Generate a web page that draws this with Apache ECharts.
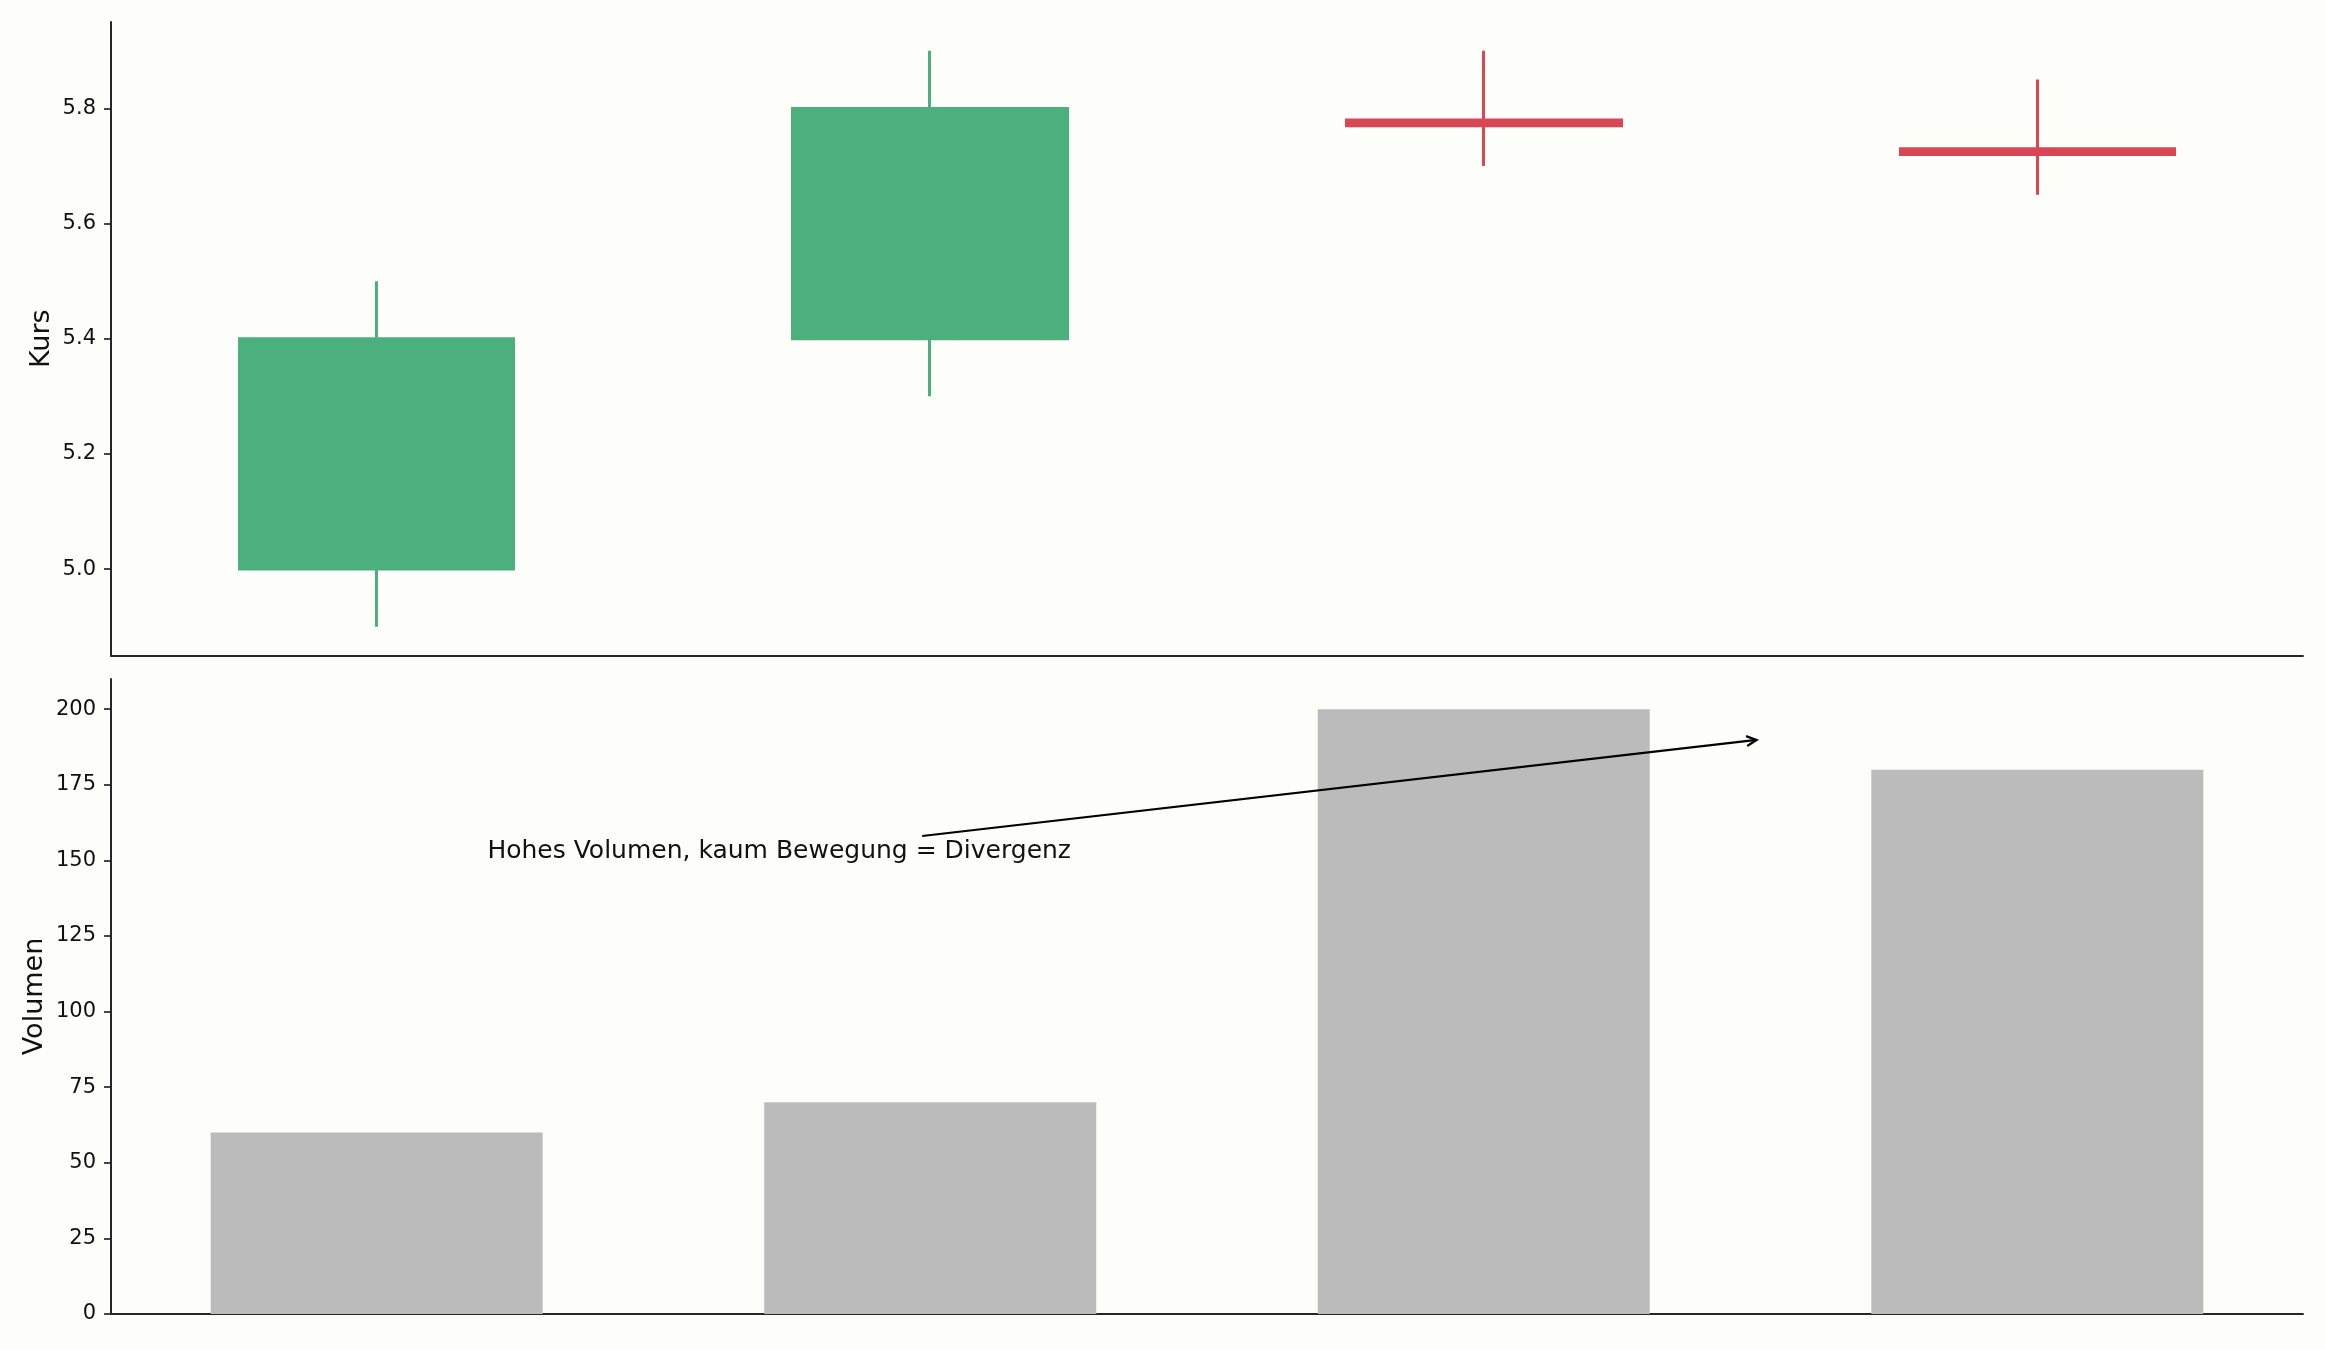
<!DOCTYPE html>
<html>
<head>
<meta charset="utf-8">
<script src="https://cdn.jsdelivr.net/npm/echarts@6/dist/echarts.min.js"></script>
<style>
  html, body { margin: 0; padding: 0; background: #fdfdf9; }
  #main { width: 2325px; height: 1350px; }
</style>
</head>
<body>
<div id="main"></div>
<script>
// chart data
var xPos = [0, 1, 2, 3];
var openVals = [5.0, 5.4, 5.78, 5.73];
var closeVals = [5.4, 5.8, 5.77, 5.72];
var lowVals = [4.9, 5.3, 5.7, 5.65];
var highVals = [5.5, 5.9, 5.9, 5.85];
var volumes = [60, 70, 200, 180];
var kursTicks = [5.0, 5.2, 5.4, 5.6, 5.8];
var volTicks = [0, 25, 50, 75, 100, 125, 150, 175, 200];
var noteText = 'Hohes Volumen, kaum Bewegung = Divergenz';
var noteAt = [0.2, 150];
var notePoint = [2.5, 190];

var FONT = 'DejaVu Sans';
var SPINE = '#262626';
var NOTE_SIZE = 25;
var myChart;

function candleData() {
    var out = [];
    for (var i = 0; i < xPos.length; i++) {
        out.push([xPos[i], openVals[i], closeVals[i], lowVals[i], highVals[i]]);
    }
    return out;
}

function volumeData() {
    var out = [];
    for (var i = 0; i < xPos.length; i++) {
        out.push([xPos[i], volumes[i]]);
    }
    return out;
}

function make_xaxis(idx) {
    return {
        type: 'value', gridIndex: idx, min: -0.48, max: 3.48,
        axisLine: { show: true, onZero: false, lineStyle: { color: SPINE, width: 2 } },
        axisTick: { show: false },
        axisLabel: { show: false },
        splitLine: { show: false }
    };
}

function make_yaxis(idx, min, max, ticks, name, gap, fmt) {
    return {
        type: 'value', gridIndex: idx, min: min, max: max, position: 'left',
        name: name, nameLocation: 'middle', nameRotate: 90, nameGap: gap,
        nameMoveOverlap: false,
        nameTextStyle: { fontFamily: FONT, fontSize: 27, color: '#111' },
        axisLine: { show: true, onZero: false, lineStyle: { color: SPINE, width: 2 } },
        axisTick: { show: true, inside: false, length: 7, customValues: ticks,
                    lineStyle: { color: SPINE, width: 1.7 } },
        axisLabel: { show: true, customValues: ticks, margin: 15, formatter: fmt,
                     fontFamily: FONT, fontSize: 21, color: '#111' },
        splitLine: { show: false }
    };
}

var option = {
    backgroundColor: '#fdfdf9',
    animation: false,
    grid: [
        { left: 111, right: 22, top: 22, bottom: 694.5, containLabel: false, outerBoundsMode: 'none' },
        { left: 111, right: 22, top: 679, bottom: 36, containLabel: false, outerBoundsMode: 'none' }
    ],
    xAxis: [make_xaxis(0), make_xaxis(1)],
    yAxis: [
        make_yaxis(0, 4.85, 5.95, kursTicks, 'Kurs', 56, function (v) { return v.toFixed(1); }),
        make_yaxis(1, 0, 210, volTicks, 'Volumen', 63, function (v) { return String(v); })
    ],
    series: [
        {
            type: 'candlestick',
            xAxisIndex: 0, yAxisIndex: 0,
            barWidth: 275,
            encode: { x: 0, y: [1, 2, 3, 4] },
            itemStyle: {
                color: '#4caf7e', color0: '#d94654',
                borderColor: '#4caf7e', borderColor0: '#d94654',
                borderWidth: 3
            },
            data: candleData()
        },
        {
            type: 'bar',
            xAxisIndex: 1, yAxisIndex: 1,
            barWidth: 332,
            itemStyle: { color: '#bbbbbb' },
            data: volumeData()
        }
    ]
};

function add_annotation() {
    var p0 = myChart.convertToPixel({ xAxisIndex: 1, yAxisIndex: 1 }, noteAt);
    var tip = myChart.convertToPixel({ xAxisIndex: 1, yAxisIndex: 1 }, notePoint);

    var ctx = document.createElement('canvas').getContext('2d');
    ctx.font = NOTE_SIZE + 'px "' + FONT + '"';
    var w = ctx.measureText(noteText).width;

    // text box like matplotlib: baseline at p0, box from ~24 above to ~8 below
    var cx = p0[0] + w / 2, cy = p0[1] - 8;
    var halfW = w / 2, halfH = 16;
    var dx = tip[0] - cx, dy = tip[1] - cy;
    var len = Math.sqrt(dx * dx + dy * dy);
    var ux = dx / len, uy = dy / len;
    var t = Math.min(halfW / Math.abs(ux || 1e-9), halfH / Math.abs(uy || 1e-9)) + 4;
    var sx = cx + ux * t, sy = cy + uy * t;
    var ex = tip[0] - ux * 4, ey = tip[1] - uy * 4;

    var hl = 10, hw = 5;
    var bx = ex - ux * hl, by = ey - uy * hl;
    var head = [[bx - uy * hw, by + ux * hw], [ex, ey], [bx + uy * hw, by - ux * hw]];

    myChart.setOption({
        graphic: [
            {
                type: 'text', silent: true, z: 100, x: p0[0], y: p0[1] - 8.6,
                style: { text: noteText, fontFamily: FONT, fontSize: NOTE_SIZE, fill: '#111',
                         align: 'left', verticalAlign: 'middle' }
            },
            {
                type: 'line', silent: true, z: 100,
                shape: { x1: sx, y1: sy, x2: ex, y2: ey },
                style: { stroke: '#000', lineWidth: 2.2 }
            },
            {
                type: 'polyline', silent: true, z: 100,
                shape: { points: head },
                style: { stroke: '#000', lineWidth: 2.2, fill: null }
            }
        ]
    });
}

myChart = echarts.init(document.getElementById('main'), null, { renderer: 'canvas' });
myChart.setOption(option);
add_annotation();
</script>
</body>
</html>
